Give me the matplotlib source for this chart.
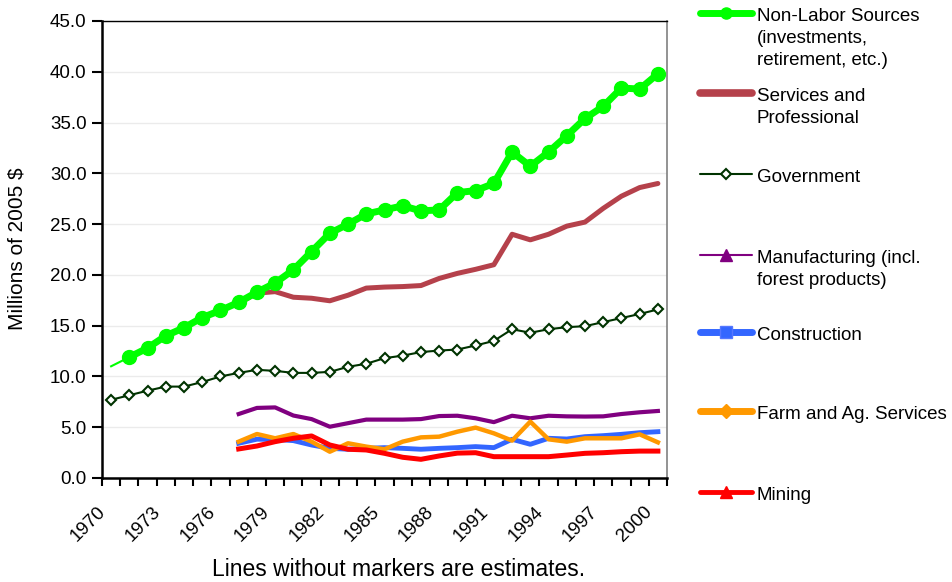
import matplotlib
matplotlib.use("Agg")
import matplotlib.pyplot as plt
from matplotlib.lines import Line2D
from matplotlib.transforms import ScaledTranslation
import numpy as np

plt.rcParams['font.family'] = ['Liberation Sans', 'DejaVu Sans']

# data (millions of 2005 $)
years = list(range(1970, 2001))
years_late = list(range(1977, 2001))

nonlabor = [11.0, 11.9, 12.8, 14.0, 14.8, 15.8, 16.5, 17.3, 18.3, 19.2, 20.5,
            22.3, 24.1, 25.0, 26.0, 26.4, 26.8, 26.3, 26.4, 28.1, 28.3, 29.0,
            32.1, 30.7, 32.1, 33.7, 35.4, 36.6, 38.4, 38.3, 39.8]
services = [17.2, 18.2, 18.35, 17.8, 17.7, 17.45, 18.0, 18.7, 18.8, 18.85,
            18.95, 19.65, 20.15, 20.55, 21.0, 24.0, 23.45, 24.0, 24.8, 25.2,
            26.55, 27.75, 28.6, 29.0]
government = [7.7, 8.15, 8.6, 9.0, 9.0, 9.45, 10.0, 10.35, 10.65, 10.55, 10.35,
              10.35, 10.45, 10.95, 11.25, 11.8, 12.05, 12.4, 12.55, 12.65, 13.05,
              13.5, 14.65, 14.3, 14.65, 14.85, 14.95, 15.35, 15.75, 16.15, 16.6]
manufacturing = [6.3, 6.9, 6.95, 6.15, 5.8, 5.05, 5.4, 5.75, 5.75, 5.75, 5.8,
                 6.1, 6.13, 5.88, 5.5, 6.13, 5.88, 6.13, 6.07, 6.05, 6.07, 6.3,
                 6.47, 6.6]
construction = [3.42, 3.82, 3.8, 3.68, 3.25, 2.92, 2.83, 2.92, 2.99, 2.92, 2.83,
                2.92, 2.99, 3.09, 2.99, 3.81, 3.32, 3.91, 3.84, 4.07, 4.17, 4.3,
                4.46, 4.56]
farm = [3.58, 4.33, 3.91, 4.33, 3.58, 2.59, 3.42, 3.09, 2.83, 3.58, 4.0, 4.07,
        4.56, 4.96, 4.4, 3.68, 5.55, 3.81, 3.58, 3.91, 3.91, 3.91, 4.3, 3.51]
mining = [2.86, 3.15, 3.58, 3.91, 4.14, 3.25, 2.83, 2.76, 2.43, 2.04, 1.84, 2.17,
          2.45, 2.49, 2.1, 2.1, 2.1, 2.1, 2.26, 2.43, 2.49, 2.59, 2.65, 2.65]

labels = ["Non-Labor Sources\n(investments,\nretirement, etc.)",
          "Services and\nProfessional",
          "Government",
          "Manufacturing (incl.\nforest products)",
          "Construction",
          "Farm and Ag. Services",
          "Mining"]

c_green = '#00FF00'
c_serv = '#B5414B'
c_gov = '#003300'
c_manu = '#800080'
c_cons = '#3366FF'
c_farm = '#FF9900'
c_mine = '#FF0000'

W, H = 952, 582
fig = plt.figure(figsize=(W / 100, H / 100), dpi=100)
ax = fig.add_axes([102 / W, 1 - 478 / H, (667 - 102) / W, (478 - 21) / H])

ax.plot(years_late, services, color=c_serv, lw=3.6, solid_capstyle='round', zorder=3)
ax.plot(years, government, color=c_gov, lw=1.5, marker='D', ms=5.5,
        mfc='white', mec=c_gov, mew=1.5, zorder=4)
ax.plot(years_late, manufacturing, color=c_manu, lw=3, zorder=4)
ax.plot(years_late, construction, color=c_cons, lw=3.5, zorder=4)
ax.plot(years_late, farm, color=c_farm, lw=3.2, zorder=5)
ax.plot(years_late, mining, color=c_mine, lw=3.6, zorder=6)
# first green point is an estimate: thin line, no marker
ax.plot(years[:2], nonlabor[:2], color=c_green, lw=1.5, zorder=7)
ax.plot(years[1:], nonlabor[1:], color=c_green, lw=5, marker='o', ms=10, zorder=7)

ax.set_xlim(1969.5, 2000.5)
ax.set_ylim(0, 45)
ax.set_yticks(np.arange(0, 46, 5))
ax.set_yticklabels([f"{v:.1f}" for v in np.arange(0, 46, 5)], fontsize=13.5)
ax.yaxis.grid(True, color='#EBEBEB', lw=1)
ax.set_axisbelow(True)

ax.set_xticks(np.arange(1969.5, 2001, 1))
ax.set_xticklabels([])
ax.set_xticks(range(1970, 2001, 3), minor=True)
ax.set_xticklabels([str(y) for y in range(1970, 2001, 3)], minor=True,
                   rotation=45, ha='right', va='top', rotation_mode='anchor',
                   fontsize=13.5)
ax.tick_params(axis='x', which='minor', length=0, pad=8)
ax.tick_params(axis='x', which='major', direction='out', length=6, width=1.5)
ax.tick_params(axis='y', direction='out', length=7, width=1.5, pad=4)
shift = ScaledTranslation(-14 / 100, -14 / 100, fig.dpi_scale_trans)
for lab in ax.get_xticklabels(minor=True):
    lab.set_transform(lab.get_transform() + shift)

ax.spines['left'].set_linewidth(1.8)
ax.spines['bottom'].set_linewidth(1.8)
ax.spines['top'].set_linewidth(1)
ax.spines['right'].set_color('#808080')
ax.spines['right'].set_linewidth(1.2)

fig.text(17 / W, 1 - 249 / H, "Millions of 2005 $", rotation=90,
         ha='center', va='center', fontsize=15)
fig.text(399 / W, 1 - 569 / H, "Lines without markers are estimates.",
         ha='center', va='center', fontsize=16.5)

# legend drawn by hand so handles sit at the first text line
leg_y = [13, 93, 174, 255, 332, 411, 492]
leg_style = [
    dict(color=c_green, lw=5, marker='o', ms=8),
    dict(color=c_serv, lw=5.5),
    dict(color=c_gov, lw=1.5, marker='D', ms=5, mfc='white', mec=c_gov, mew=1.5),
    dict(color=c_manu, lw=1.5, marker='^', ms=9),
    dict(color=c_cons, lw=5, marker='s', ms=8, mfc=c_cons, mec='#5577FF'),
    dict(color=c_farm, lw=5, marker='D', ms=7),
    dict(color=c_mine, lw=3.5, marker='^', ms=9),
]
for y, lab, st in zip(leg_y, labels, leg_style):
    fy = 1 - y / H
    fig.add_artist(Line2D([700 / W, 752 / W], [fy, fy], color=st['color'],
                          lw=st['lw'], solid_capstyle='round',
                          transform=fig.transFigure))
    if 'marker' in st:
        fig.add_artist(Line2D([726 / W], [fy], transform=fig.transFigure, ls='none',
                              marker=st['marker'], ms=st['ms'], color=st['color'],
                              mfc=st.get('mfc', st['color']), mec=st.get('mec', st['color']),
                              mew=st.get('mew', 1)))
    fig.text(757 / W, 1 - (y - 5) / H, lab, ha='left', va='top',
             fontsize=13.5, linespacing=1.38)

fig.savefig("out.png", dpi=100)
